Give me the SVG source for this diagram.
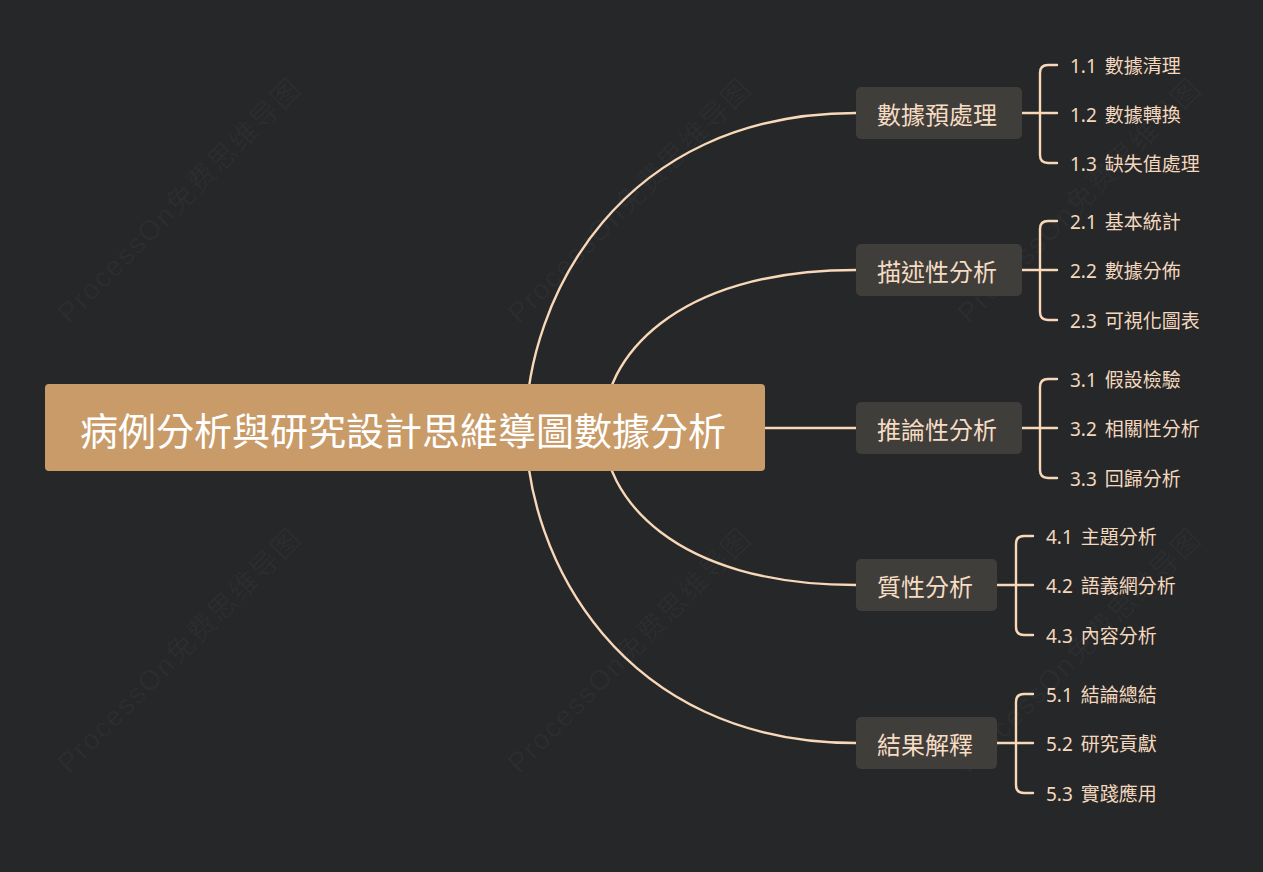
<svg xmlns="http://www.w3.org/2000/svg" width="1263" height="872" viewBox="0 0 1263 872">
<defs>
<style>
.bg{fill:#262729}
.wm{font-family:"Liberation Sans","Noto Sans CJK SC",sans-serif;font-size:28px;fill:#ffffff;fill-opacity:0.035;text-anchor:middle;dominant-baseline:central}
.root rect{fill:#C89B69}
.root text{font-family:"Noto Sans","Noto Sans CJK TC",sans-serif;font-size:38px;fill:#ffffff;text-anchor:middle;dominant-baseline:central}
.br rect{fill:#403E3A}
.br text{font-family:"Noto Sans","Noto Sans CJK TC",sans-serif;font-size:24px;fill:#F5DCC3;text-anchor:middle;dominant-baseline:central}
.sub{font-family:"Noto Sans","Noto Sans CJK TC",sans-serif;font-size:19px;fill:#F3D8BE;dominant-baseline:central;word-spacing:3px}
.ln{fill:none;stroke:#F8D8B8;stroke-width:2.4;stroke-linecap:round}
</style>
</defs>
<rect class="bg" x="0" y="0" width="1263" height="872"/>
<g id="watermarks">
<text class="wm" transform="translate(179,201) rotate(-45)" textLength="330" lengthAdjust="spacing">ProcessOn免费思维导图</text>
<text class="wm" transform="translate(629,201) rotate(-45)" textLength="330" lengthAdjust="spacing">ProcessOn免费思维导图</text>
<text class="wm" transform="translate(1079,201) rotate(-45)" textLength="330" lengthAdjust="spacing">ProcessOn免费思维导图</text>
<text class="wm" transform="translate(179,651) rotate(-45)" textLength="330" lengthAdjust="spacing">ProcessOn免费思维导图</text>
<text class="wm" transform="translate(629,651) rotate(-45)" textLength="330" lengthAdjust="spacing">ProcessOn免费思维导图</text>
<text class="wm" transform="translate(1079,651) rotate(-45)" textLength="330" lengthAdjust="spacing">ProcessOn免费思维导图</text>
</g>
<g id="connectors">
<path class="ln" d="M526 428 C526 300 620 113 856 113"/>
<path class="ln" d="M603 428 C603 360 672 270 856 270"/>
<path class="ln" d="M765 428 H856"/>
<path class="ln" d="M603 428 C603 496 672 585 856 585"/>
<path class="ln" d="M526 428 C526 556 620 743 856 743"/>
<path class="ln" d="M1022 113 H1057 M1057 65 H1048 Q1040 65 1040 73 V155 Q1040 163 1048 163 H1057"/>
<path class="ln" d="M1022 270 H1057 M1057 221 H1048 Q1040 221 1040 229 V312 Q1040 320 1048 320 H1057"/>
<path class="ln" d="M1022 428 H1057 M1057 379 H1048 Q1040 379 1040 387 V470 Q1040 478 1048 478 H1057"/>
<path class="ln" d="M997 585 H1033 M1033 536 H1024 Q1016 536 1016 544 V627 Q1016 635 1024 635 H1033"/>
<path class="ln" d="M997 743 H1033 M1033 694 H1024 Q1016 694 1016 702 V785 Q1016 793 1024 793 H1033"/>
</g>
<g id="root" class="root">
<rect x="45" y="384" width="720" height="87" rx="4"/>
<text x="403" y="430">病例分析與研究設計思維導圖數據分析</text>
</g>
<g id="b1" class="br"><rect x="856" y="87" width="166" height="52" rx="5"/><text x="937" y="114">數據預處理</text></g>
<g id="b2" class="br"><rect x="856" y="244" width="166" height="52" rx="5"/><text x="937" y="271">描述性分析</text></g>
<g id="b3" class="br"><rect x="856" y="402" width="166" height="52" rx="5"/><text x="937" y="429">推論性分析</text></g>
<g id="b4" class="br"><rect x="856" y="559" width="141" height="52" rx="5"/><text x="925" y="586">質性分析</text></g>
<g id="b5" class="br"><rect x="856" y="717" width="141" height="52" rx="5"/><text x="925" y="744">結果解釋</text></g>
<g id="s11"><text class="sub" x="1070" y="65.5">1.1 數據清理</text></g>
<g id="s12"><text class="sub" x="1070" y="114.5">1.2 數據轉換</text></g>
<g id="s13"><text class="sub" x="1070" y="164">1.3 缺失值處理</text></g>
<g id="s21"><text class="sub" x="1070" y="222">2.1 基本統計</text></g>
<g id="s22"><text class="sub" x="1070" y="271">2.2 數據分佈</text></g>
<g id="s23"><text class="sub" x="1070" y="321">2.3 可視化圖表</text></g>
<g id="s31"><text class="sub" x="1070" y="380">3.1 假設檢驗</text></g>
<g id="s32"><text class="sub" x="1070" y="429">3.2 相關性分析</text></g>
<g id="s33"><text class="sub" x="1070" y="479">3.3 回歸分析</text></g>
<g id="s41"><text class="sub" x="1046" y="537">4.1 主題分析</text></g>
<g id="s42"><text class="sub" x="1046" y="586">4.2 語義網分析</text></g>
<g id="s43"><text class="sub" x="1046" y="636">4.3 內容分析</text></g>
<g id="s51"><text class="sub" x="1046" y="695">5.1 結論總結</text></g>
<g id="s52"><text class="sub" x="1046" y="744">5.2 研究貢獻</text></g>
<g id="s53"><text class="sub" x="1046" y="794">5.3 實踐應用</text></g>
</svg>
